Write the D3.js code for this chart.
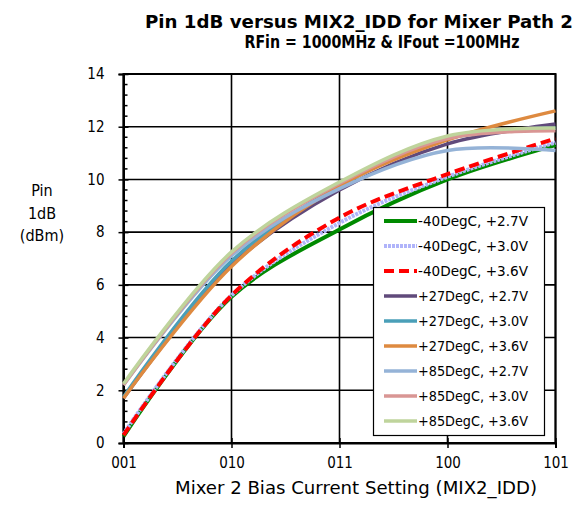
<!DOCTYPE html>
<html><head><meta charset="utf-8">
<script src="https://cdn.jsdelivr.net/npm/d3@7"></script>
<style>body{margin:0;background:#fff}svg{display:block}text{font-family:"DejaVu Sans Condensed","DejaVu Sans",sans-serif;fill:#000}</style>
</head><body><svg id="c" width="584" height="508"></svg>
<script>
const categories = ["001","010","011","100","101"];
const yTicks = [0,2,4,6,8,10,12,14];
const seriesNames = ["-40DegC, +2.7V","-40DegC, +3.0V","-40DegC, +3.6V","+27DegC, +2.7V","+27DegC, +3.0V","+27DegC, +3.6V","+85DegC, +2.7V","+85DegC, +3.0V","+85DegC, +3.6V"];
const m40_27 = [0.25, 5.55, 8.1, 10.0, 11.3];
const m40_30 = [0.35, 5.6, 8.35, 10.1, 11.4];
const m40_36 = [0.3, 5.6, 8.55, 10.2, 11.55];
const p27_27 = [1.7, 6.75, 9.6, 11.35, 12.1];
const p27_30 = [1.75, 6.9, 9.75, 11.55, 11.95];
const p27_36 = [1.7, 6.7, 9.75, 11.5, 12.6];
const p85_27 = [2.2, 7.1, 9.65, 11.1, 11.1];
const p85_30 = [2.2, 7.2, 9.85, 11.55, 11.85];
const p85_36 = [2.25, 7.25, 9.9, 11.65, 11.95];
const seriesValues = [m40_27,m40_30,m40_36,p27_27,p27_30,p27_36,p85_27,p85_30,p85_36];
const styles = [
  {c:"#008a00", w:4, d:null},
  {c:"#b0b4fa", w:4, d:"3,1"},
  {c:"#ff0000", w:4, d:"10,5"},
  {c:"#604a7b", w:3.5, d:null},
  {c:"#4a9fb8", w:3.5, d:null},
  {c:"#de8a40", w:3.5, d:null},
  {c:"#95b3d7", w:3.5, d:null},
  {c:"#d99694", w:3.5, d:null},
  {c:"#bfd49c", w:3.5, d:null}
];

const svg = d3.select("#c");
const L=123.5, R=555.5, T=74, B=443;
const x = d3.scalePoint().domain(categories).range([L,R]).padding(0);
const y = d3.scaleLinear().domain([0,14]).range([B,T]);
const FONT = "DejaVu Sans Condensed,DejaVu Sans,sans-serif";

const g = svg.append("g");
g.selectAll("line.h").data(yTicks).join("line")
  .attr("x1",L).attr("x2",R).attr("y1",d=>y(d)).attr("y2",d=>y(d))
  .attr("stroke","#000").attr("stroke-width",1.6);
g.selectAll("line.v").data(categories).join("line")
  .attr("y1",T).attr("y2",B).attr("x1",d=>x(d)).attr("x2",d=>x(d))
  .attr("stroke","#000").attr("stroke-width",1.6);

const minor = d3.range(0,14.001,0.4).filter(v=>Math.abs(v/2-Math.round(v/2))>0.01);
g.selectAll("line.m").data(minor).join("line")
  .attr("x1",L).attr("x2",L+4).attr("y1",d=>y(d)).attr("y2",d=>y(d))
  .attr("stroke","#000").attr("stroke-width",1.5);

const ya = svg.append("g").attr("transform",`translate(${L},0)`)
  .call(d3.axisLeft(y).tickValues(yTicks).tickSize(5).tickPadding(14));
ya.select(".domain").attr("stroke-width",2);
ya.selectAll(".tick line").attr("x2",-5).attr("x1",5).attr("stroke-width",1.5);
ya.selectAll(".tick text").attr("font-size",15).attr("font-family",FONT).attr("fill","#222");
const xa = svg.append("g").attr("transform",`translate(0,${B})`)
  .call(d3.axisBottom(x).tickSize(5).tickPadding(9));
xa.select(".domain").attr("stroke-width",2);
xa.selectAll(".tick line").attr("y1",-5).attr("y2",5).attr("stroke-width",1.5);
xa.selectAll(".tick text").attr("font-size",15).attr("font-family",FONT).attr("fill","#222");

svg.append("rect").attr("x",L).attr("y",T).attr("width",R-L).attr("height",B-T)
  .attr("fill","none").attr("stroke","#000").attr("stroke-width",2);

const line = d3.line().x((d,i)=>x(categories[i])).y(d=>y(d)).curve(d3.curveCatmullRom.alpha(0.5));
seriesValues.forEach((vals,i)=>{
  const s=styles[i];
  const p=svg.append("path").attr("d",line(vals)).attr("fill","none")
    .attr("stroke",s.c).attr("stroke-width",s.w).attr("stroke-linecap","butt");
  if(s.d) p.attr("stroke-dasharray",s.d);
});

const lg = svg.append("g");
lg.append("rect").attr("x",373.5).attr("y",207.5).attr("width",171).attr("height",228)
  .attr("fill","#fff").attr("stroke","#000").attr("stroke-width",1.2);
seriesNames.forEach((n,i)=>{
  const yy=221+i*25, s=styles[i];
  const l=lg.append("line").attr("x1",384).attr("x2",417).attr("y1",yy).attr("y2",yy)
    .attr("stroke",s.c).attr("stroke-width",s.w);
  if(s.d) l.attr("stroke-dasharray",s.d);
  lg.append("text").attr("x",418).attr("y",yy+5).attr("font-size",14.5).attr("fill","#222")
    .attr("textLength",110).attr("lengthAdjust","spacingAndGlyphs").text(n);
});

svg.append("text").attr("x",359).attr("y",28).attr("text-anchor","middle")
  .attr("font-size",17).attr("font-weight","bold")
  .attr("textLength",428).attr("lengthAdjust","spacingAndGlyphs")
  .text("Pin 1dB versus MIX2_IDD for Mixer Path 2");
svg.append("text").attr("x",382).attr("y",48).attr("text-anchor","middle")
  .attr("font-size",17).attr("font-weight","bold")
  .attr("textLength",275).attr("lengthAdjust","spacingAndGlyphs")
  .text("RFin = 1000MHz & IFout =100MHz");
svg.append("text").attr("x",356).attr("y",494).attr("text-anchor","middle")
  .attr("font-size",17).attr("fill","#222")
  .attr("textLength",362).attr("lengthAdjust","spacingAndGlyphs")
  .text("Mixer 2 Bias Current Setting (MIX2_IDD)");
const yt=["Pin","1dB","(dBm)"];
yt.forEach((t,i)=>svg.append("text").attr("x",42).attr("y",196+i*22.5).attr("text-anchor","middle")
  .attr("font-size",16).attr("fill","#222").text(t));
</script></body></html>
